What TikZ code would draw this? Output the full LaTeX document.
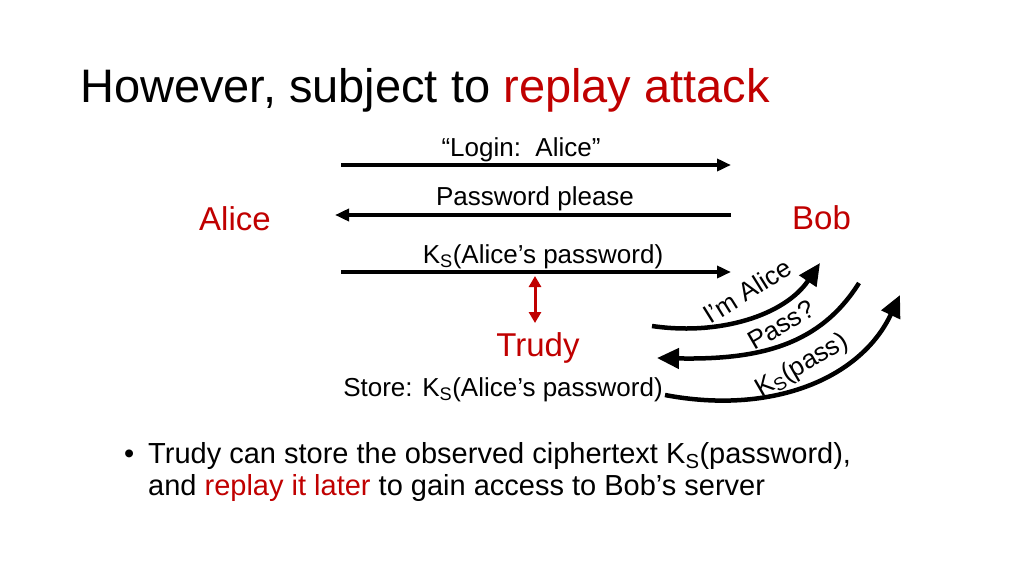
\documentclass[tikz,border=0pt]{standalone}
\usepackage{fontspec}
\setmainfont{Liberation Sans}
\definecolor{slred}{RGB}{192,0,0}
\usetikzlibrary{arrows.meta}

\begin{document}
\begin{tikzpicture}[x=1pt,y=-1pt,
  txt/.style={font=\fontsize{26}{30}\selectfont,inner sep=0pt,anchor=base},
  who/.style={font=\fontsize{33}{38}\selectfont,text=slred,inner sep=0pt,anchor=base},
  msg/.style={-{Triangle[length=14pt,width=12pt]},line width=3.5pt},
  hop/.style={-{Triangle[length=22pt,width=20pt]},line width=4.5pt},
  tap/.style={{Triangle[length=11pt,width=12pt]}-{Triangle[length=11pt,width=12pt]},line width=3pt,slred}
]
  \useasboundingbox (0,0) rectangle (1024,576);
  % Title
  \node[font=\fontsize{47}{54}\selectfont,inner sep=0pt,anchor=base west] (title) at (80,102)
    {However, subject to \textcolor{slred}{replay attack}};
  % Parties
  \node[who,anchor=base west] (alice) at (199,230) {Alice};
  \node[who,anchor=base west] (bob) at (792,229) {Bob};
  \node[who] (trudy) at (538,356) {Trudy};
  % Messages between Alice and Bob
  \coordinate (m1l) at (341,165); \coordinate (m1r) at (731,165);
  \coordinate (m2l) at (335,215); \coordinate (m2r) at (731,215);
  \coordinate (m3l) at (341,272); \coordinate (m3r) at (731,272);
  \node[txt] (login) at (521,156) {“Login:\ \ Alice”};
  \node[txt] (please) at (535,205) {Password please};
  \node[txt] (cipher) at (543,263) {K\textsubscript{S}(Alice’s password)};
  \draw[msg] (m1l) -- (m1r);
  \draw[msg] (m2r) -- (m2l);
  \draw[msg] (m3l) -- (m3r);
  % Trudy listens in
  \coordinate (tapt) at (535,276); \coordinate (tapb) at (535,323);
  \draw[tap] (tapt) -- (tapb);
  \node[txt] (store) at (503,396) {Store: K\textsubscript{S}(Alice’s password)};
  % Replay towards Bob
  \coordinate (r1s) at (652,326); \coordinate (r1e) at (820,263);
  \coordinate (r2s) at (859,283); \coordinate (r2e) at (657,358);
  \coordinate (r3s) at (665,395); \coordinate (r3e) at (900,295);
  \draw[hop] (r1s) .. controls (720,336) and (785,315) .. (r1e);
  \draw[hop] (r2s) .. controls (820,345) and (760,360) .. (r2e);
  \draw[hop] (r3s) .. controls (770,415) and (860,380) .. (r3e);
  \node[txt,anchor=center,rotate=32] (imalice) at (747,291) {I’m Alice};
  \node[txt,anchor=center,rotate=30] (pass) at (781,325) {Pass?};
  \node[txt,anchor=center,rotate=30] (kspass) at (802,366) {K\textsubscript{S}(pass)};
  % Bullet text
  \node[font=\fontsize{29}{32}\selectfont,inner sep=0pt,anchor=base west] (dot) at (124,463) {•};
  \node[font=\fontsize{29}{32}\selectfont,inner sep=0pt,anchor=base west] (line1) at (148,463)
    {Trudy can store the observed ciphertext K\textsubscript{S}(password),};
  \node[font=\fontsize{29}{32}\selectfont,inner sep=0pt,anchor=base west] (line2) at (148,495)
    {and \textcolor{slred}{replay it later} to gain access to Bob’s server};
\end{tikzpicture}
\end{document}
